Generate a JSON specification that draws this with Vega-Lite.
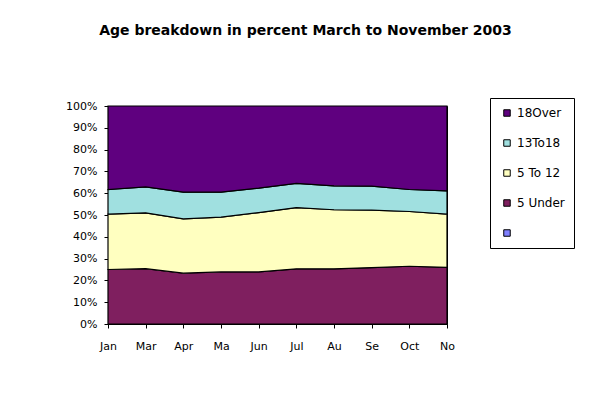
{
  "$schema": "https://vega.github.io/schema/vega-lite/v6.json",
  "autosize": "none",
  "width": 339,
  "height": 218,
  "padding": {"left": 108, "top": 106, "right": 155, "bottom": 70},
  "background": "white",
  "title": {
    "text": "Age breakdown in percent March to November 2003",
    "font": "DejaVu Sans",
    "fontSize": 14,
    "fontWeight": "bold",
    "color": "black",
    "anchor": "middle",
    "dx": 28,
    "offset": 60
  },
  "data": {
    "values": [
      {"month": "Jan", "group": "5 Under", "value": 25.0},
      {"month": "Mar", "group": "5 Under", "value": 25.4},
      {"month": "Apr", "group": "5 Under", "value": 23.3},
      {"month": "Ma", "group": "5 Under", "value": 23.9},
      {"month": "Jun", "group": "5 Under", "value": 23.9},
      {"month": "Jul", "group": "5 Under", "value": 25.3},
      {"month": "Au", "group": "5 Under", "value": 25.3},
      {"month": "Se", "group": "5 Under", "value": 25.9},
      {"month": "Oct", "group": "5 Under", "value": 26.5},
      {"month": "No", "group": "5 Under", "value": 26.0},
      {"month": "Jan", "group": "5 To 12", "value": 25.4},
      {"month": "Mar", "group": "5 To 12", "value": 25.6},
      {"month": "Apr", "group": "5 To 12", "value": 24.9},
      {"month": "Ma", "group": "5 To 12", "value": 25.1},
      {"month": "Jun", "group": "5 To 12", "value": 27.2},
      {"month": "Jul", "group": "5 To 12", "value": 28.1},
      {"month": "Au", "group": "5 To 12", "value": 27.1},
      {"month": "Se", "group": "5 To 12", "value": 26.3},
      {"month": "Oct", "group": "5 To 12", "value": 25.1},
      {"month": "No", "group": "5 To 12", "value": 24.4},
      {"month": "Jan", "group": "13To18", "value": 11.3},
      {"month": "Mar", "group": "13To18", "value": 11.9},
      {"month": "Apr", "group": "13To18", "value": 12.3},
      {"month": "Ma", "group": "13To18", "value": 11.5},
      {"month": "Jun", "group": "13To18", "value": 11.2},
      {"month": "Jul", "group": "13To18", "value": 11.1},
      {"month": "Au", "group": "13To18", "value": 11.0},
      {"month": "Se", "group": "13To18", "value": 11.0},
      {"month": "Oct", "group": "13To18", "value": 10.1},
      {"month": "No", "group": "13To18", "value": 10.7},
      {"month": "Jan", "group": "18Over", "value": 38.3},
      {"month": "Mar", "group": "18Over", "value": 37.1},
      {"month": "Apr", "group": "18Over", "value": 39.5},
      {"month": "Ma", "group": "18Over", "value": 39.5},
      {"month": "Jun", "group": "18Over", "value": 37.7},
      {"month": "Jul", "group": "18Over", "value": 35.5},
      {"month": "Au", "group": "18Over", "value": 36.6},
      {"month": "Se", "group": "18Over", "value": 36.8},
      {"month": "Oct", "group": "18Over", "value": 38.3},
      {"month": "No", "group": "18Over", "value": 38.9}
    ]
  },
  "transform": [
    {"calculate": "indexof(['5 Under','5 To 12','13To18','18Over'], datum.group)", "as": "ord"}
  ],
  "mark": {"type": "area", "stroke": "black", "strokeWidth": 1.2, "opacity": 1},
  "encoding": {
    "x": {
      "field": "month",
      "type": "ordinal",
      "sort": ["Jan", "Mar", "Apr", "Ma", "Jun", "Jul", "Au", "Se", "Oct", "No"],
      "scale": {"type": "point", "padding": 0},
      "axis": {
        "title": null,
        "labelAngle": 0,
        "labelFont": "DejaVu Sans",
        "labelFontSize": 11,
        "labelColor": "black",
        "labelPadding": 12,
        "tickSize": 4,
        "tickColor": "black",
        "domainColor": "black",
        "grid": false
      }
    },
    "y": {
      "field": "value",
      "type": "quantitative",
      "stack": "normalize",
      "scale": {"domain": [0, 1], "nice": false},
      "axis": {
        "title": null,
        "format": ".0%",
        "values": [0, 0.1, 0.2, 0.3, 0.4, 0.5, 0.6, 0.7, 0.8, 0.9, 1],
        "labelFont": "DejaVu Sans",
        "labelFontSize": 11,
        "labelColor": "black",
        "labelPadding": 7,
        "tickSize": 4,
        "tickColor": "black",
        "domainColor": "black",
        "grid": false
      }
    },
    "color": {
      "field": "group",
      "type": "nominal",
      "scale": {
        "domain": ["18Over", "13To18", "5 To 12", "5 Under", " "],
        "range": ["#5F007F", "#A0E0E0", "#FFFFC0", "#7F1F5F", "#8080FF"]
      },
      "legend": {
        "title": null,
        "orient": "none",
        "legendX": 382,
        "legendY": -8,
        "strokeColor": "black",
        "fillColor": "white",
        "padding": 9,
        "symbolType": "square",
        "symbolSize": 42,
        "symbolStrokeColor": "black",
        "symbolStrokeWidth": 1,
        "symbolOpacity": 1,
        "labelFont": "DejaVu Sans",
        "labelFontSize": 12,
        "labelColor": "black",
        "labelOffset": 4,
        "rowPadding": 18,
        "symbolOffset": 2
      }
    },
    "order": {"field": "ord", "type": "quantitative"}
  },
  "config": {
    "view": {"stroke": "black", "strokeWidth": 1}
  }
}
